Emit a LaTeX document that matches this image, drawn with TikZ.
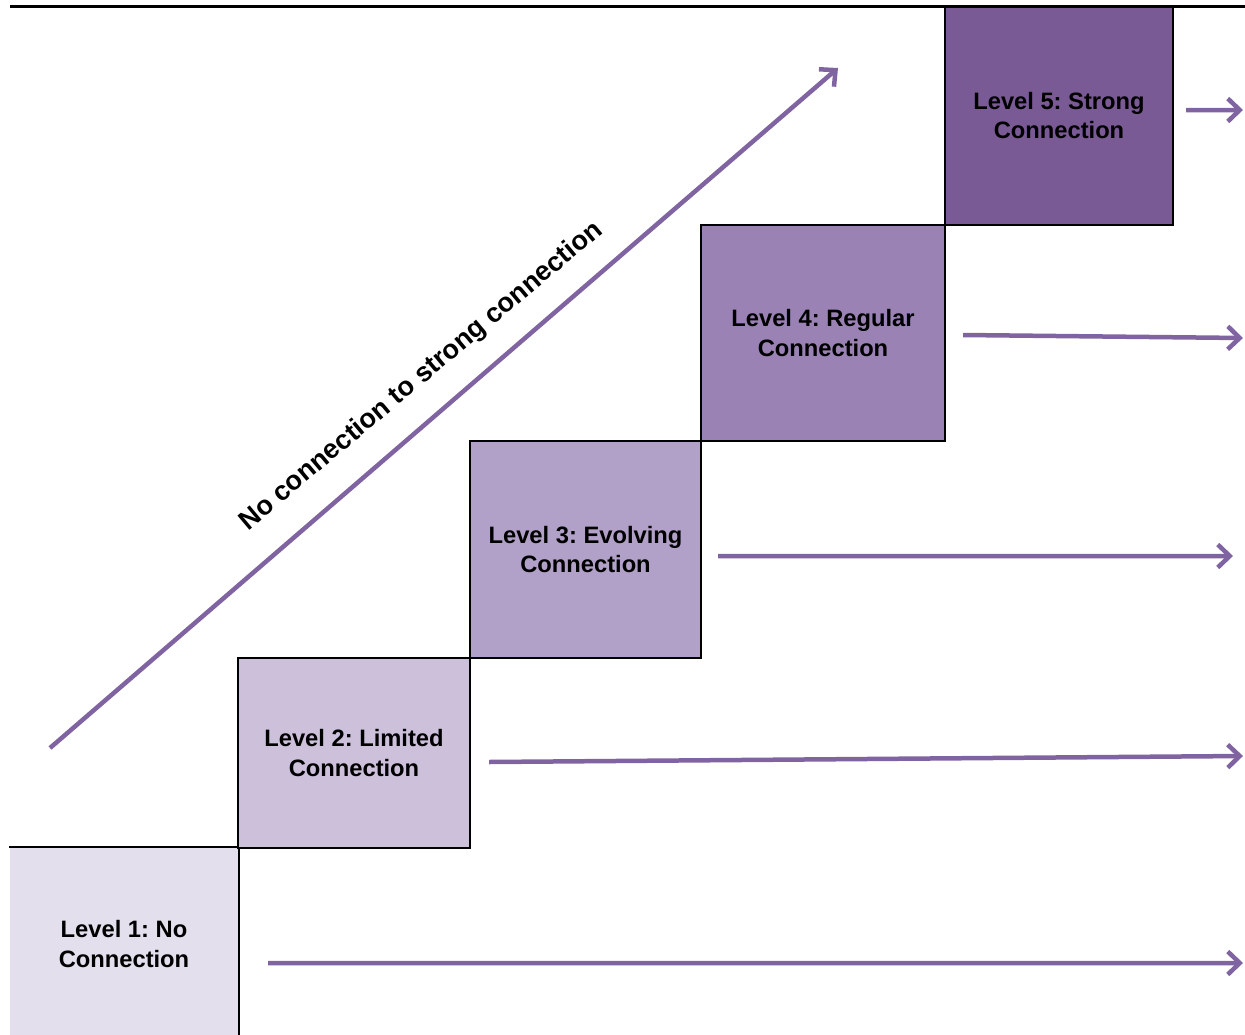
\documentclass[tikz,border=0pt]{standalone}
\usepackage{fontspec}
\setmainfont{Liberation Sans}
\frenchspacing
\usetikzlibrary{arrows.meta,positioning}
\definecolor{lvlone}{HTML}{E4DFEC}
\definecolor{lvltwo}{HTML}{CCC0DA}
\definecolor{lvlthree}{HTML}{B1A0C7}
\definecolor{lvlfour}{HTML}{9A82B4}
\definecolor{lvlfive}{HTML}{795A94}
\definecolor{flowpurple}{HTML}{8064A2}
\tikzset{
  level/.style={
    inner sep = 0pt,
    draw = black,
    line width = 0.05cm,
    align = center,
    font = \fontsize{13.5}{17}\selectfont\bfseries
  },
  flow/.style={
    draw = flowpurple,
    line width = 0.09cm,
    -{Straight Barb[length=0.24cm,width=0.46cm]}
  },
  rise/.style={
    font = \fontsize{15.4}{18}\selectfont\bfseries,
    rotate = 40,
    anchor = base,
    inner sep = 0pt
  }
}
\begin{document}
\begin{tikzpicture}[x=0.02cm,y=-0.02cm]
\useasboundingbox (0,0) rectangle (1245,1035);
% steps
\node[level, draw=none, fill=lvlone, minimum width=4.56cm, minimum height=3.84cm] (l1) at (124,944) {Level 1: No\\Connection};
\draw[line width=0.05cm] (l1.north west) -- (l1.north east) -- (l1.south east);
\node[level, fill=lvltwo, minimum width=4.64cm, minimum height=3.8cm] (l2) at (354,753) {Level 2: Limited\\Connection};
\node[level, fill=lvlthree, minimum width=4.62cm, minimum height=4.34cm] (l3) at (585.5,549.5) {Level 3: Evolving\\Connection};
\node[level, fill=lvlfour, minimum width=4.88cm, minimum height=4.32cm] (l4) at (823,333) {Level 4: Regular\\Connection};
\node[level, fill=lvlfive, minimum width=4.56cm, minimum height=4.38cm] (l5) at (1059,115.5) {Level 5: Strong\\Connection};
% top rule
\draw[line width=0.06cm] (10,6) -- (1245,6);
% arrows out of the steps
\coordinate (e1) at (1243,963);
\coordinate (e2) at (1243,756);
\coordinate (e3) at (1233,556);
\coordinate (e4) at (1243,338);
\coordinate (e5) at (1243,110);
\draw[flow] ([xshift=0.58cm,yshift=-0.38cm]l1.east) -- (e1);
\draw[flow] ([xshift=0.36cm,yshift=-0.18cm]l2.east) -- (e2);
\draw[flow] ([xshift=0.32cm,yshift=-0.13cm]l3.east) -- (e3);
\draw[flow] ([xshift=0.34cm,yshift=-0.04cm]l4.east) -- (e4);
\draw[flow] ([xshift=0.24cm,yshift=0.11cm]l5.east) -- (e5);
% the rise
\coordinate (lo) at (50,748);
\coordinate (hi) at (838,68);
\draw[flow] (lo) -- (hi);
\node[rise] (risetxt) at (426,382) {No connection to strong connection};
\end{tikzpicture}
\end{document}
